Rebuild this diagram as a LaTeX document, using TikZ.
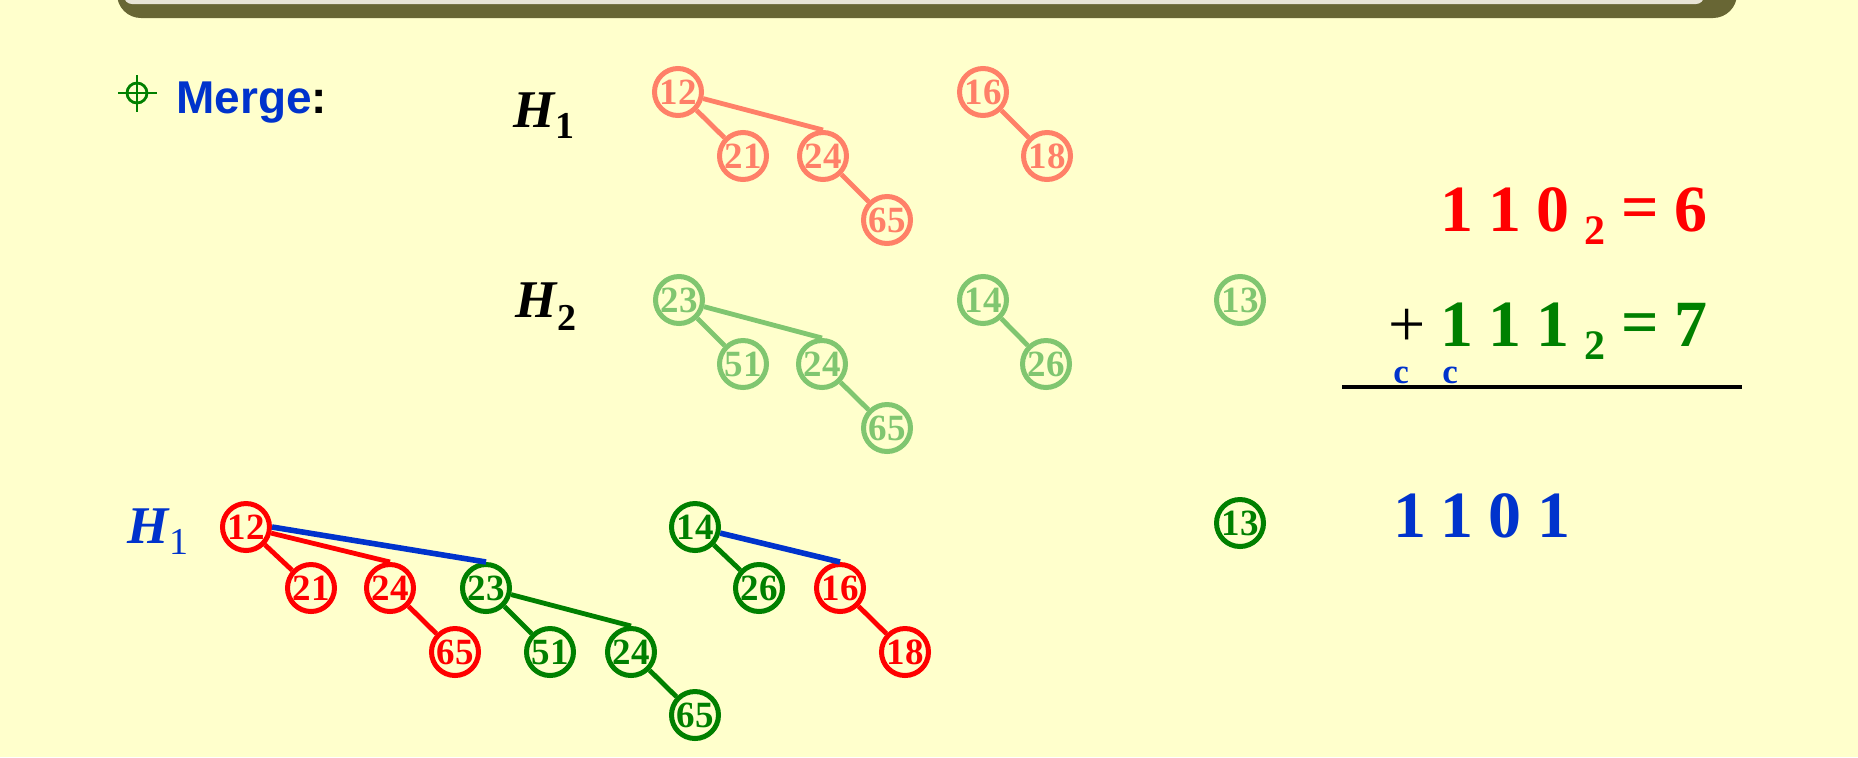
\documentclass[tikz,border=0pt]{standalone}
\usepackage{fontspec}
\setmainfont{Liberation Serif}
\setsansfont{Liberation Sans}
\definecolor{bg}{RGB}{255,255,204}
\definecolor{banner}{RGB}{104,102,52}
\definecolor{strip}{RGB}{232,228,214}
\definecolor{salmon}{RGB}{255,128,104}
\definecolor{lgreen}{RGB}{128,198,112}
\definecolor{mred}{RGB}{255,0,0}
\definecolor{mgreen}{RGB}{0,128,0}
\definecolor{mblue}{RGB}{0,51,204}
\newcommand{\ringfont}{\fontsize{18.5}{18.5}\selectfont\bfseries}
\newcommand{\headfont}{\sffamily\bfseries\fontsize{23}{23}\selectfont}
\newcommand{\hfont}{\bfseries\fontsize{26.5}{26.5}\selectfont}
\newcommand{\hsub}{\fontsize{19}{19}\selectfont}
\newcommand{\bigfont}{\bfseries\fontsize{33}{33}\selectfont}
\newcommand{\subfont}{\bfseries\fontsize{21}{21}\selectfont}
\newcommand{\plusfont}{\fontsize{33}{33}\selectfont}
\newcommand{\cfont}{\bfseries\fontsize{17.5}{17.5}\selectfont}

\begin{document}
\begin{tikzpicture}[x=0.5pt, y=-0.5pt,
            ring/.style={circle, draw, line width=2.5pt, minimum size=23.5pt,
                inner sep=0pt, font=\ringfont},
            link/.style={line width=2.4pt},
            merged/.style={line width=2.8pt, mblue}]
            \useasboundingbox (0, 0) rectangle (1858, 757);
            \fill [bg] (0, 0) rectangle (1858, 757);
            \fill [banner] (117, -30) [rounded corners=12pt] -- (117, 18) -- (1737, 18)
                [sharp corners] -- (1737, -30) -- cycle;
            \fill [strip] (124, -30) [rounded corners=4pt] -- (124, 4) -- (1704, 4)
                [sharp corners] -- (1704, -30) -- cycle;
            \draw [mgreen, line width=1.4pt] (137, 93) circle [radius=10];
            \draw [mgreen, line width=1.4pt] (118, 93) -- (157, 93);
            \draw [mgreen, line width=1.4pt] (137, 75) -- (137, 112);
            \node (merge) [anchor=base west, font=\headfont, inner sep=0pt] at (176, 113)
                {\textcolor{mblue}{Merge}:};
            \node (h1) [anchor=base west, font=\hfont, inner sep=0pt] at (513, 127)
                {\textit{H}\raisebox{-5.5pt}{\hsub 1}};
            \node (h2) [anchor=base west, font=\hfont, inner sep=0pt] at (515, 317)
                {\textit{H}\raisebox{-6.5pt}{\hsub 2}};
            \node (h3) [anchor=base west, font=\hfont, inner sep=0pt, mblue] at (127, 543)
                {\textit{H}\raisebox{-5.5pt}{\hsub\mdseries 1}};
            \node (p12) [ring, salmon] at (678, 92) {12};
            \node (p21) [ring, salmon] at (743, 156) {21};
            \node (p24) [ring, salmon] at (823, 156) {24};
            \node (p65) [ring, salmon] at (887, 220) {65};
            \node (p16) [ring, salmon] at (983, 92) {16};
            \node (p18) [ring, salmon] at (1047, 156) {18};
            \draw [link, salmon] (p12) -- (p21);
            \draw [link, salmon] (p12) -- (p24.north);
            \draw [link, salmon] (p24) -- (p65);
            \draw [link, salmon] (p16) -- (p18);
            \node (q23) [ring, lgreen] at (679, 300) {23};
            \node (q51) [ring, lgreen] at (743, 364) {51};
            \node (q24) [ring, lgreen] at (822, 364) {24};
            \node (q65) [ring, lgreen] at (887, 428) {65};
            \node (q14) [ring, lgreen] at (983, 300) {14};
            \node (q26) [ring, lgreen] at (1046, 364) {26};
            \node (q13) [ring, lgreen] at (1240, 300) {13};
            \draw [link, lgreen] (q23) -- (q51);
            \draw [link, lgreen] (q23) -- (q24.north);
            \draw [link, lgreen] (q24) -- (q65);
            \draw [link, lgreen] (q14) -- (q26);
            \node (m12) [ring, mred] at (246, 527) {12};
            \node (m21) [ring, mred] at (311, 588) {21};
            \node (m24) [ring, mred] at (390, 588) {24};
            \node (m65) [ring, mred] at (455, 652) {65};
            \node (n23) [ring, mgreen] at (486, 588) {23};
            \node (n51) [ring, mgreen] at (550, 652) {51};
            \node (n24) [ring, mgreen] at (631, 652) {24};
            \node (n65) [ring, mgreen] at (695, 715) {65};
            \node (n14) [ring, mgreen] at (695, 527) {14};
            \node (n26) [ring, mgreen] at (759, 588) {26};
            \node (m16) [ring, mred] at (840, 588) {16};
            \node (m18) [ring, mred] at (905, 652) {18};
            \node (n13) [ring, mgreen] at (1240, 523) {13};
            \draw [link, mred] (m12) -- (m21);
            \draw [link, mred] (m12) -- (m24.north);
            \draw [link, mred] (m24) -- (m65);
            \draw [link, mred] (m16) -- (m18);
            \draw [link, mgreen] (n23) -- (n51);
            \draw [link, mgreen] (n23) -- (n24.north);
            \draw [link, mgreen] (n24) -- (n65);
            \draw [link, mgreen] (n14) -- (n26);
            \draw [merged] (m12.east) -- (n23.north);
            \draw [merged] (n14) -- (m16.north);
            \foreach \x/\d [count=\i] in {1457/1, 1505/1, 1553/0}
                \node (a\i) [anchor=base, mred, font=\bigfont, inner sep=0pt] at (\x, 231) {\d};
            \node (asub) [anchor=base, mred, font=\subfont, inner sep=0pt] at (1595, 244) {2};
            \node (aeq) [anchor=base, mred, font=\bigfont, inner sep=0pt] at (1640, 229) {=};
            \node (aval) [anchor=base, mred, font=\bigfont, inner sep=0pt] at (1691, 231) {6};
            \node (plus) [anchor=base, font=\plusfont, inner sep=0pt] at (1407, 346) {+};
            \foreach \x/\d [count=\i] in {1457/1, 1505/1, 1553/1}
                \node (b\i) [anchor=base, mgreen, font=\bigfont, inner sep=0pt] at (\x, 346) {\d};
            \node (bsub) [anchor=base, mgreen, font=\subfont, inner sep=0pt] at (1595, 359) {2};
            \node (beq) [anchor=base, mgreen, font=\bigfont, inner sep=0pt] at (1640, 344) {=};
            \node (bval) [anchor=base, mgreen, font=\bigfont, inner sep=0pt] at (1691, 346) {7};
            \node (c1) [anchor=base, mblue, font=\cfont, inner sep=0pt] at (1401, 383) {c};
            \node (c2) [anchor=base, mblue, font=\cfont, inner sep=0pt] at (1450, 383) {c};
            \coordinate (rl) at (1342, 387);
            \coordinate (rr) at (1742, 387);
            \draw [line width=2pt] (rl) -- (rr);
            \foreach \x/\d [count=\i] in {1410/1, 1457/1, 1505/0, 1554/1}
                \node (s\i) [anchor=base, mblue, font=\bigfont, inner sep=0pt] at (\x, 537) {\d};
        \end{tikzpicture}
\end{document}
